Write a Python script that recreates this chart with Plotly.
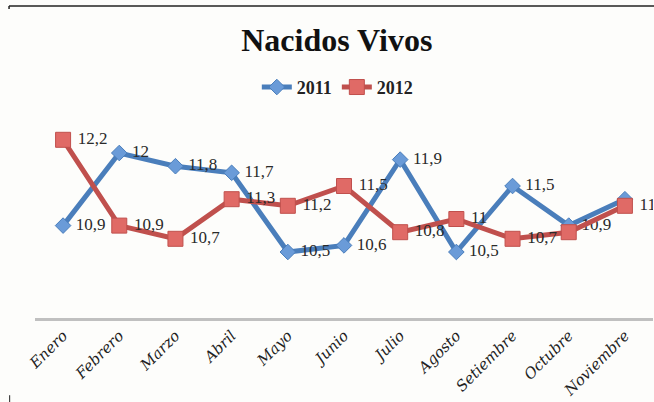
import plotly.graph_objects as go

meses = ["Enero", "Febrero", "Marzo", "Abril", "Mayo", "Junio", "Julio",
         "Agosto", "Setiembre", "Octubre", "Noviembre"]
v2011 = [10.9, 12.0, 11.8, 11.7, 10.5, 10.6, 11.9, 10.5, 11.5, 10.9, 11.3]
v2012 = [12.2, 10.9, 10.7, 11.3, 11.2, 11.5, 10.8, 11.0, 10.7, 10.8, 11.2]
# labels the original hides behind other marks
ocultos_2011 = ["Noviembre"]
ocultos_2012 = ["Octubre"]

BLUE = "#4a7ebb"
RED = "#c0504d"
SERIF = "Liberation Serif"


def _lbl(vals, ocultos):
    return ["" if m in ocultos else "\u00a0" + f"{v:g}".replace(".", ",")
            for m, v in zip(meses, vals)]


fig = go.Figure()
fig.add_trace(go.Scatter(
    x=meses, y=v2011, name="2011", mode="lines+markers+text",
    line=dict(color=BLUE, width=5),
    marker=dict(symbol="diamond", size=12, color="#6a9bd8",
                line=dict(color=BLUE, width=1)),
    text=_lbl(v2011, ocultos_2011), textposition="middle right",
    textfont=dict(family=SERIF, size=17, color="#2a2a2a"),
))
fig.add_trace(go.Scatter(
    x=meses, y=v2012, name="2012", mode="lines+markers+text",
    line=dict(color=RED, width=5),
    marker=dict(symbol="square", size=15, color="#e06a66",
                line=dict(color=RED, width=1)),
    text=_lbl(v2012, ocultos_2012), textposition="middle right",
    textfont=dict(family=SERIF, size=17, color="#2a2a2a"),
))

# frame of the original chart, cropped
fig.add_shape(type="line", xref="paper", yref="paper",
              x0=-0.042, x1=1.01, y0=1.576, y1=1.576,
              line=dict(color="#222222", width=1.5))
fig.add_shape(type="line", xref="paper", yref="paper",
              x0=-0.042, x1=-0.042, y0=1.576, y1=1.56,
              line=dict(color="#222222", width=1.5))
fig.add_shape(type="line", xref="paper", yref="paper",
              x0=-0.041, x1=-0.041, y0=-0.39, y1=-0.43,
              line=dict(color="#222222", width=1))

fig.update_layout(
    width=654, height=402,
    margin=dict(l=35, r=1, t=120, b=84, autoexpand=False),
    paper_bgcolor="#fdfdfb", plot_bgcolor="#fdfdfb",
    title=dict(text="<b>Nacidos Vivos</b>", x=0.515, xanchor="center",
               y=0.9, yanchor="middle",
               font=dict(family=SERIF, size=32, color="#111111")),
    legend=dict(orientation="h", x=0.49, xanchor="center", y=1.165,
                yanchor="middle",
                font=dict(family=SERIF, size=18, color="#222222", weight="bold"),
                itemwidth=30, bgcolor="rgba(0,0,0,0)"),
    xaxis=dict(range=[-0.5, 10.5], showline=True, linecolor="#c0c0c0", linewidth=3,
               showgrid=False, ticks="", tickangle=-45, automargin=False,
               tickfont=dict(family="DejaVu Serif", size=15, color="#222222",
                             style="italic")),
    yaxis=dict(range=[9.5, 12.5], visible=False, showgrid=False, automargin=False),
    showlegend=True,
)

fig.write_html("out.html", config={"displayModeBar": False},
               post_script="document.body.style.margin='0';")
